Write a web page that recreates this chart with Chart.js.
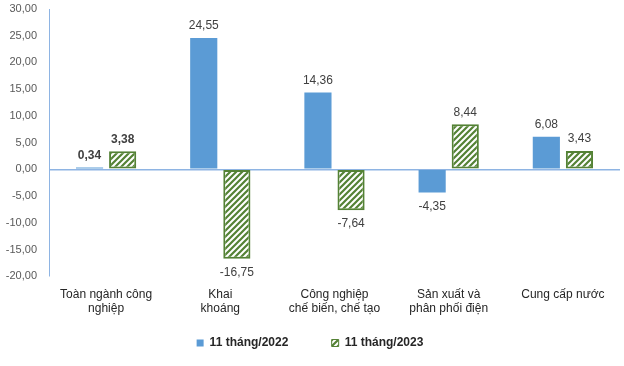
<!DOCTYPE html>
<html lang="vi">
  <head>
    <meta charset="UTF-8" />
    <title>Chỉ số sản xuất công nghiệp</title>
    <script src="https://cdn.jsdelivr.net/npm/chart.js@4/dist/chart.umd.min.js"></script>
    <style>
      html, body { margin: 0; padding: 0; background: #fff; }
      #wrap { width: 624px; height: 366px; }
    </style>
  </head>
  <body>
    <div id="wrap"><canvas id="myChart"></canvas></div>
    <script>
      // data
      const categories = [
        ["Toàn ngành công", "nghiệp"],
        ["Khai", "khoáng"],
        ["Công nghiệp", "chế biến, chế tạo"],
        ["Sản xuất và", "phân phối điện"],
        ["Cung cấp nước"]
      ];
      const series2022 = [0.34, 24.55, 14.36, -4.35, 6.08];
      const series2023 = [3.38, -16.75, -7.64, 8.44, 3.43];
      const seriesNames = ["11 tháng/2022", "11 tháng/2023"];
      const yTicks = { min: -20, max: 30, step: 5 };

      const blue = "#5B9BD5";
      const green = "#548235";

      // diagonal hatch for the 2023 bars
      function makeHatch() {
        const c = document.createElement("canvas");
        c.width = 6;
        c.height = 6;
        const g = c.getContext("2d");
        g.fillStyle = "#fff";
        g.fillRect(0, 0, 6, 6);
        g.strokeStyle = green;
        g.lineWidth = 2.2;
        g.beginPath();
        g.moveTo(-3, 3); g.lineTo(3, -3);
        g.moveTo(0, 6); g.lineTo(6, 0);
        g.moveTo(3, 9); g.lineTo(9, 3);
        g.stroke();
        return g.createPattern(c, "repeat");
      }
      const hatch = makeHatch();

      const fmt = (v) => v.toFixed(2).replace(".", ",");

      // value labels above / below each bar
      const barLabels = {
        id: "barLabels",
        afterDatasetsDraw(chart) {
          const ctx = chart.ctx;
          ctx.save();
          ctx.textAlign = "center";
          ctx.textBaseline = "middle";
          ctx.fillStyle = "#404040";
          chart.data.datasets.forEach((ds, di) => {
            chart.getDatasetMeta(di).data.forEach((bar, i) => {
              const v = ds.data[i];
              ctx.font = (i === 0 ? "bold " : "") + "12px 'Liberation Sans', Arial, sans-serif";
              const y = v >= 0 ? bar.y - 12 : bar.y + 14;
              ctx.fillText(fmt(v), bar.x, y);
            });
          });
          ctx.restore();
        }
      };

      const ctx = document.getElementById("myChart").getContext("2d");
      const myChart = new Chart(ctx, {
        type: "bar",
        data: {
          labels: categories,
          datasets: [
            {
              label: seriesNames[0],
              data: series2022,
              backgroundColor: blue,
              borderWidth: 0,
              barPercentage: 0.82,
              categoryPercentage: 0.58
            },
            {
              label: seriesNames[1],
              data: series2023,
              backgroundColor: hatch,
              borderColor: green,
              borderWidth: 2,
              borderSkipped: false,
              barPercentage: 0.82,
              categoryPercentage: 0.58
            }
          ]
        },
        options: {
          responsive: true,
          maintainAspectRatio: false,
          animation: false,
          layout: { padding: { top: 9, right: 4, bottom: 7, left: 0 } },
          plugins: {
            tooltip: { enabled: false },
            legend: {
              position: "bottom",
              labels: {
                boxWidth: 7,
                boxHeight: 7,
                padding: 10,
                color: "#262626",
                font: { family: "'Liberation Sans', Arial, sans-serif", size: 12, weight: "bold" },
                generateLabels(chart) {
                  const items = Chart.defaults.plugins.legend.labels.generateLabels(chart);
                  items.forEach((it, i) => {
                    it.lineWidth = i === 1 ? 1 : 0;
                    if (i === 0) it.text = it.text + "          ";
                  });
                  return items;
                }
              }
            }
          },
          scales: {
            x: {
              grid: { display: false },
              border: { display: false },
              ticks: {
                color: "#262626",
                padding: 3,
                maxRotation: 0,
                autoSkip: false,
                font: { family: "'Liberation Sans', Arial, sans-serif", size: 12 }
              },
              afterFit(s) { s.height = s.height + 8; }
            },
            y: {
              min: yTicks.min,
              max: yTicks.max,
              grid: {
                drawTicks: true,
                tickLength: 12,
                tickColor: "rgba(0,0,0,0)",
                color: (c) => (c.tick && c.tick.value === 0 ? "#8EB4E3" : "rgba(0,0,0,0)"),
                lineWidth: 1.5
              },
              border: { display: true, color: "#8EB4E3", width: 1 },
              ticks: {
                stepSize: yTicks.step,
                padding: 0,
                color: "#595959",
                font: { family: "'Liberation Sans', Arial, sans-serif", size: 11 },
                callback: (v) => fmt(v)
              },
              afterFit(s) { s.width = 49; }
            }
          }
        },
        plugins: [barLabels]
      });
    </script>
  </body>
</html>
